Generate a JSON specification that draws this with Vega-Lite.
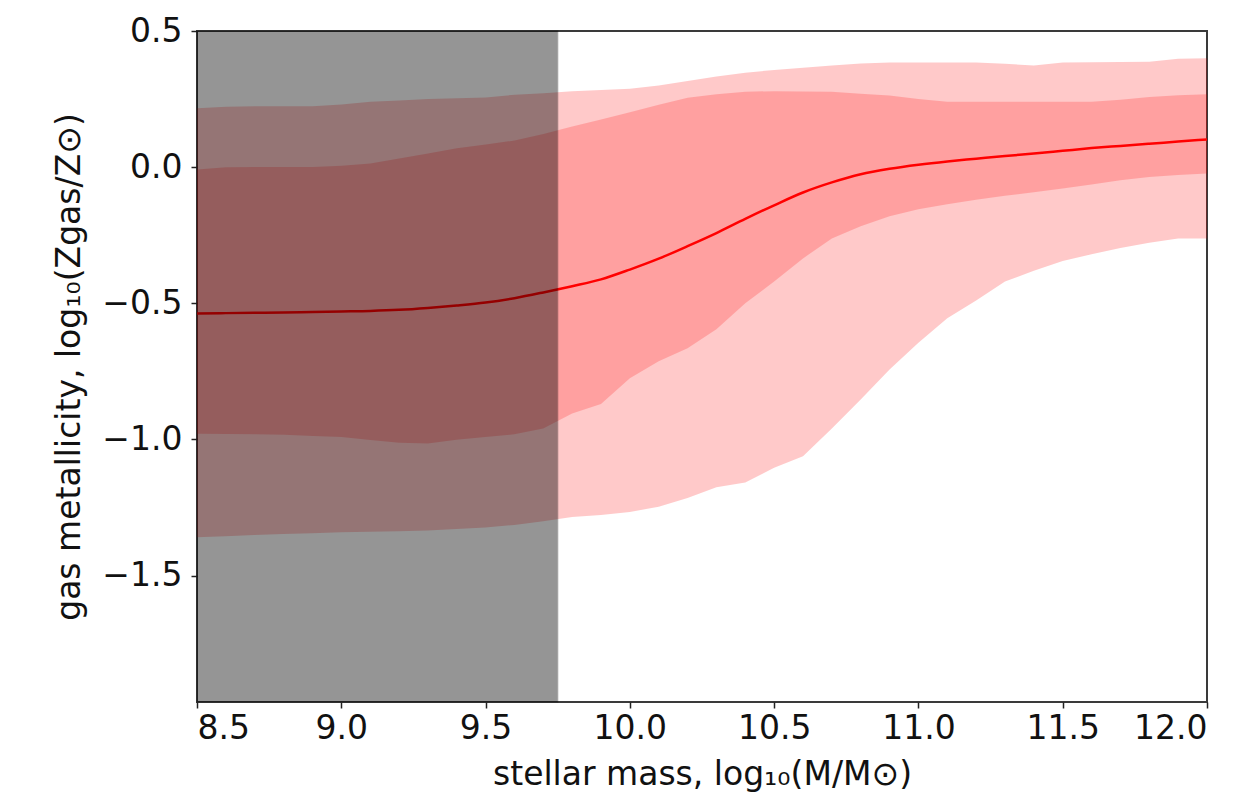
{
  "$schema": "https://vega.github.io/schema/vega-lite/v6.json",
  "width": 1010,
  "height": 671,
  "autosize": "none",
  "padding": {"left": 197, "top": 31, "right": 48, "bottom": 105},
  "background": "white",
  "config": {
    "font": "DejaVu Sans",
    "view": {"stroke": "#3a3a3a", "strokeWidth": 2},
    "axis": {
      "domain": false,
      "grid": false,
      "tickColor": "#222",
      "tickSize": 6,
      "tickWidth": 1.5,
      "labelColor": "#111",
      "labelFontSize": 33,
      "titleColor": "#111",
      "titleFontSize": 33,
      "titleFontWeight": "normal"
    }
  },
  "datasets": {
    "curves": [
      {"m": 8.5, "lo2": -1.359, "lo1": -0.979, "med": -0.537, "hi1": -0.009, "hi2": 0.216},
      {"m": 8.6, "lo2": -1.355, "lo1": -0.980, "med": -0.536, "hi1": 0.000, "hi2": 0.222},
      {"m": 8.7, "lo2": -1.351, "lo1": -0.981, "med": -0.535, "hi1": 0.001, "hi2": 0.224},
      {"m": 8.8, "lo2": -1.347, "lo1": -0.983, "med": -0.534, "hi1": 0.001, "hi2": 0.224},
      {"m": 8.9, "lo2": -1.344, "lo1": -0.987, "med": -0.532, "hi1": 0.001, "hi2": 0.224},
      {"m": 9.0, "lo2": -1.341, "lo1": -0.991, "med": -0.530, "hi1": 0.005, "hi2": 0.230},
      {"m": 9.1, "lo2": -1.339, "lo1": -1.002, "med": -0.528, "hi1": 0.013, "hi2": 0.240},
      {"m": 9.2, "lo2": -1.337, "lo1": -1.012, "med": -0.524, "hi1": 0.032, "hi2": 0.245},
      {"m": 9.3, "lo2": -1.334, "lo1": -1.015, "med": -0.517, "hi1": 0.050, "hi2": 0.250},
      {"m": 9.4, "lo2": -1.329, "lo1": -1.001, "med": -0.508, "hi1": 0.069, "hi2": 0.253},
      {"m": 9.5, "lo2": -1.323, "lo1": -0.991, "med": -0.497, "hi1": 0.083, "hi2": 0.256},
      {"m": 9.6, "lo2": -1.314, "lo1": -0.981, "med": -0.481, "hi1": 0.098, "hi2": 0.266},
      {"m": 9.7, "lo2": -1.300, "lo1": -0.960, "med": -0.460, "hi1": 0.122, "hi2": 0.271},
      {"m": 9.8, "lo2": -1.285, "lo1": -0.905, "med": -0.437, "hi1": 0.149, "hi2": 0.279},
      {"m": 9.9, "lo2": -1.277, "lo1": -0.870, "med": -0.412, "hi1": 0.175, "hi2": 0.283},
      {"m": 10.0, "lo2": -1.266, "lo1": -0.775, "med": -0.376, "hi1": 0.202, "hi2": 0.288},
      {"m": 10.1, "lo2": -1.247, "lo1": -0.713, "med": -0.336, "hi1": 0.229, "hi2": 0.300},
      {"m": 10.2, "lo2": -1.215, "lo1": -0.665, "med": -0.290, "hi1": 0.255, "hi2": 0.316},
      {"m": 10.3, "lo2": -1.175, "lo1": -0.595, "med": -0.242, "hi1": 0.268, "hi2": 0.333},
      {"m": 10.4, "lo2": -1.158, "lo1": -0.500, "med": -0.190, "hi1": 0.277, "hi2": 0.347},
      {"m": 10.5, "lo2": -1.104, "lo1": -0.420, "med": -0.140, "hi1": 0.279, "hi2": 0.357},
      {"m": 10.6, "lo2": -1.062, "lo1": -0.335, "med": -0.093, "hi1": 0.278, "hi2": 0.365},
      {"m": 10.7, "lo2": -0.960, "lo1": -0.262, "med": -0.056, "hi1": 0.277, "hi2": 0.373},
      {"m": 10.8, "lo2": -0.853, "lo1": -0.217, "med": -0.026, "hi1": 0.270, "hi2": 0.381},
      {"m": 10.9, "lo2": -0.743, "lo1": -0.180, "med": -0.006, "hi1": 0.263, "hi2": 0.384},
      {"m": 11.0, "lo2": -0.645, "lo1": -0.155, "med": 0.009, "hi1": 0.250, "hi2": 0.384},
      {"m": 11.1, "lo2": -0.555, "lo1": -0.136, "med": 0.021, "hi1": 0.240, "hi2": 0.384},
      {"m": 11.2, "lo2": -0.490, "lo1": -0.120, "med": 0.031, "hi1": 0.240, "hi2": 0.384},
      {"m": 11.3, "lo2": -0.420, "lo1": -0.105, "med": 0.041, "hi1": 0.240, "hi2": 0.380},
      {"m": 11.4, "lo2": -0.380, "lo1": -0.092, "med": 0.050, "hi1": 0.240, "hi2": 0.373},
      {"m": 11.5, "lo2": -0.345, "lo1": -0.078, "med": 0.060, "hi1": 0.240, "hi2": 0.384},
      {"m": 11.6, "lo2": -0.320, "lo1": -0.064, "med": 0.070, "hi1": 0.240, "hi2": 0.385},
      {"m": 11.7, "lo2": -0.297, "lo1": -0.048, "med": 0.078, "hi1": 0.248, "hi2": 0.386},
      {"m": 11.8, "lo2": -0.278, "lo1": -0.036, "med": 0.086, "hi1": 0.258, "hi2": 0.387},
      {"m": 11.9, "lo2": -0.262, "lo1": -0.029, "med": 0.094, "hi1": 0.264, "hi2": 0.398},
      {"m": 12.0, "lo2": -0.262, "lo1": -0.023, "med": 0.102, "hi1": 0.268, "hi2": 0.400}
    ],
    "span": [{"start": 8.5, "end": 9.75}]
  },
  "data": {"name": "curves"},
  "encoding": {
    "x": {
      "field": "m",
      "type": "quantitative",
      "scale": {"domain": [8.5, 12.0], "nice": false, "zero": false},
      "axis": {
        "values": [8.5, 9.0, 9.5, 10.0, 10.5, 11.0, 11.5, 12.0],
        "format": ".1f",
        "labelPadding": 4,
        "title": "stellar mass, log₁₀(M/M⊙)",
        "titlePadding": 13
      }
    }
  },
  "layer": [
    {
      "mark": {"type": "area", "color": "#ff0000", "opacity": 0.21},
      "encoding": {
        "y": {
          "field": "lo2",
          "type": "quantitative",
          "scale": {"domain": [-1.964, 0.5], "nice": false, "zero": false},
          "axis": {
            "values": [0.5, 0.0, -0.5, -1.0, -1.5],
            "format": ".1f",
            "labelPadding": 9,
            "title": "gas metallicity, log₁₀(Zgas/Z⊙)",
            "titlePadding": 15
          }
        },
        "y2": {"field": "hi2"}
      }
    },
    {
      "mark": {"type": "area", "color": "#ff0000", "opacity": 0.2},
      "encoding": {
        "y": {"field": "lo1", "type": "quantitative"},
        "y2": {"field": "hi1"}
      }
    },
    {
      "mark": {"type": "line", "color": "#ff0000", "strokeWidth": 2.5, "interpolate": "monotone"},
      "encoding": {"y": {"field": "med", "type": "quantitative"}}
    },
    {
      "data": {"name": "span"},
      "mark": {"type": "rect", "color": "#000000", "opacity": 0.41, "stroke": "#000000", "strokeWidth": 1.5, "strokeOpacity": 0.5},
      "encoding": {
        "x": {"field": "start", "type": "quantitative"},
        "x2": {"field": "end"},
        "y": {"datum": 0.5},
        "y2": {"datum": -1.964}
      }
    }
  ]
}
